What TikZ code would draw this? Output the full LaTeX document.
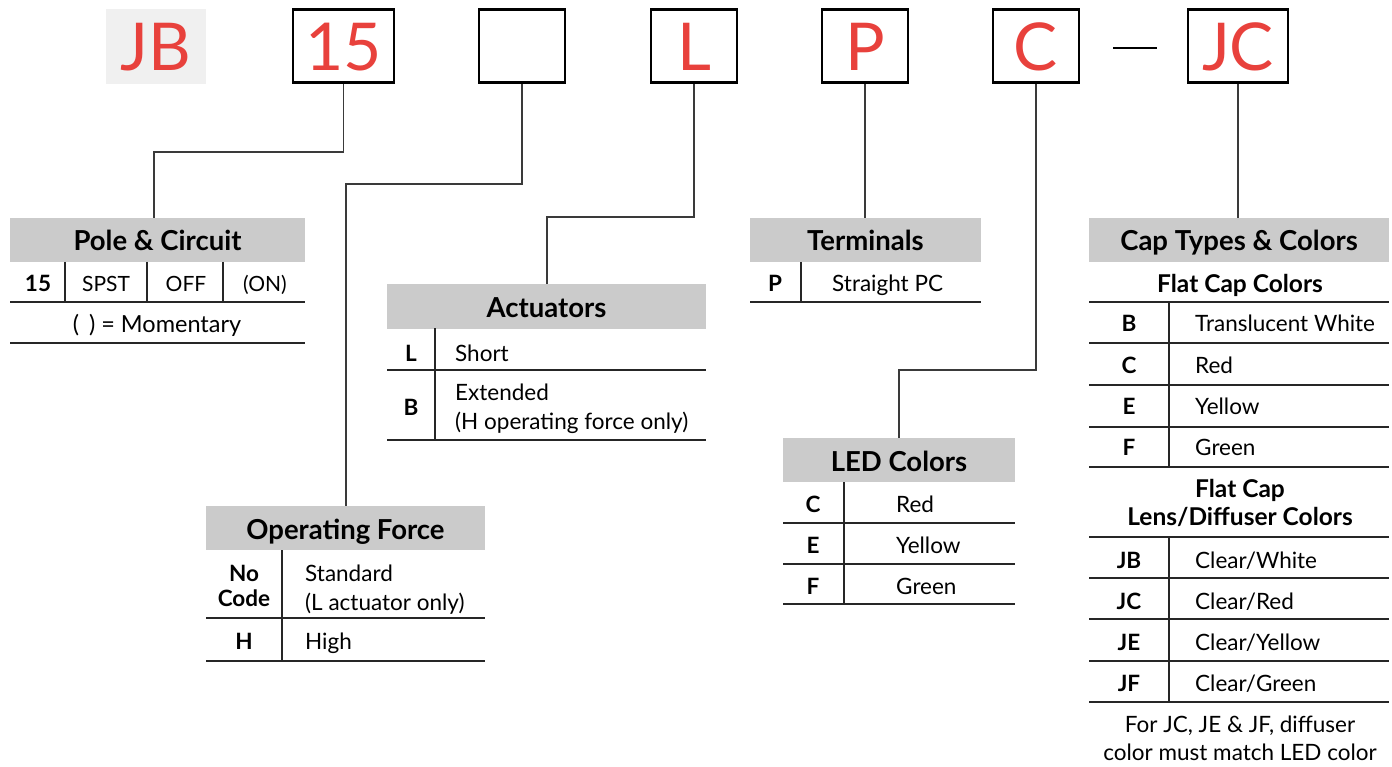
\documentclass[tikz,border=0pt]{standalone}
\usepackage{fontspec}
\setmainfont{Lato}
\usetikzlibrary{positioning}
\definecolor{codered}{HTML}{E8413C}
\definecolor{headgray}{HTML}{CBCBCB}
\definecolor{jbgray}{HTML}{F0F0F0}
\definecolor{leadgray}{HTML}{3A3A3A}
\tikzset{
  code/.style={draw=black, line width=2.6pt, minimum height=73, inner sep=0,
    text=codered, text height=49, text depth=0, font=\fontsize{66}{66}\selectfont},
  head/.style={fill=headgray, minimum height=44, inner sep=0, text height=22,
    text depth=0, font=\bfseries\fontsize{27.5}{27.5}\selectfont},
  key/.style={anchor=base, inner sep=0, font=\bfseries\fontsize{22.5}{22.5}\selectfont},
  sub/.style={anchor=base, inner sep=0, font=\bfseries\fontsize{24.5}{24.5}\selectfont},
  txt/.style={anchor=base west, inner sep=0, font=\fontsize{22.5}{22.5}\selectfont},
  ctxt/.style={anchor=base, inner sep=0, font=\fontsize{22.5}{22.5}\selectfont},
  lead/.style={draw=leadgray, line width=1.2pt},
  rule/.style={draw=black!85, line width=1.3pt}
}
\begin{document}
\begin{tikzpicture}[x=1pt,y=-1pt]
\useasboundingbox (0,0) rectangle (1392,767);
% part number boxes
\node[fill=jbgray, minimum width=100, minimum height=75, inner sep=0, text=codered,
  text height=49, text depth=0, font=\fontsize{66}{66}\selectfont] (jb) at (156,46.5) {JB};
\node[code, minimum width=101] (b15) at (343.5,46) {15};
\node[code, minimum width=86] (bx) at (522,46) {};
\node[code, minimum width=86] (bl) at (694,46) {L};
\node[code, minimum width=86] (bp) at (865,46) {P};
\node[code, minimum width=86] (bc) at (1036,46) {C};
\node[code, minimum width=100] (bjc) at (1238,46) {JC};
\draw[line width=2.6pt] (1113,48) -- (1157,48);

% table headers
\node[head, minimum width=295] (pole) at (157.5,240) {Pole \& Circuit};
\node[head, minimum width=319] (act) at (546.5,306.5) {Actuators};
\node[head, minimum width=279] (force) at (345.5,528) {Operating Force};
\node[head, minimum width=231] (term) at (865.5,240) {Terminals};
\node[head, minimum width=232] (led) at (899,460) {LED Colors};
\node[head, minimum width=300] (cap) at (1239,240) {Cap Types \& Colors};

% leaders
\coordinate (k15) at (154,152);
\coordinate (kx) at (346,184);
\coordinate (kl) at (547,217);
\coordinate (kc) at (899,370);
\draw[lead] (b15.south) |- (k15) -- (k15 |- pole.north);
\draw[lead] (bx.south) |- (kx) -- (kx |- force.north);
\draw[lead] (bl.south) |- (kl) -- (kl |- act.north);
\draw[lead] (bp.south) -- (bp.south |- term.north);
\draw[lead] (bc.south) |- (kc) -- (kc |- led.north);
\draw[lead] (bjc.south) -- (bjc.south |- cap.north);

% pole & circuit
\draw[rule] (65,262) -- (65,302) (147,262) -- (147,302) (223,262) -- (223,302);
\draw[rule] (10,302) -- (305,302) (10,343) -- (305,343);
\node[key] (p15) at (38,292) {15};
\node[ctxt, font=\fontsize{21}{21}\selectfont] (spst) at (106,292) {SPST};
\node[ctxt, font=\fontsize{21}{21}\selectfont] (off) at (186,292) {OFF};
\node[ctxt, font=\fontsize{21}{21}\selectfont] (on) at (265,292) {(ON)};
\node[ctxt, font=\fontsize{23.5}{23.5}\selectfont] (mom) at (157,332) {( \,) = Momentary};

% actuators
\draw[rule] (435,328) -- (435,440);
\draw[rule] (387,370) -- (706,370) (387,440) -- (706,440);
\node[key] (al) at (411,361) {L};
\node[txt] (ashort) at (455,361) {Short};
\node[key] (ab) at (411,415) {B};
\node[txt] (aext) at (455,400) {Extended};
\node[txt] (aonly) at (455,429) {(H operating force only)};

% operating force
\draw[rule] (282,550) -- (282,661);
\draw[rule] (206,618) -- (485,618) (206,661) -- (485,661);
\node[key] (fno) at (244,581) {No};
\node[key] (fcode) at (244,606) {Code};
\node[txt] (fstd) at (305,581) {Standard};
\node[txt] (fonly) at (305,610) {(L actuator only)};
\node[key] (fh) at (244,649) {H};
\node[txt] (fhigh) at (305,649) {High};

% terminals
\draw[rule] (801,262) -- (801,302);
\draw[rule] (750,302) -- (981,302);
\node[key] (tp) at (775,292) {P};
\node[txt] (tpc) at (832,292) {Straight PC};

% LED colors
\draw[rule] (844,482) -- (844,604);
\foreach \y in {523,564,604}
  \draw[rule] (783,\y) -- (1015,\y);
\foreach \k/\n/\b in {C/Red/512, E/Yellow/553, F/Green/594}{
  \node[key] (ledk\k) at (813,\b) {\k};
  \node[txt] (led\k) at (896,\b) {\n};
}

% cap types & colors
\node[sub] (flat) at (1240,293) {Flat Cap Colors};
\draw[rule] (1169,302) -- (1169,467);
\foreach \y in {302,343,385,427,467}
  \draw[rule] (1089,\y) -- (1389,\y);
\foreach \k/\n/\b in {B/Translucent White/331, C/Red/373, E/Yellow/414, F/Green/455}{
  \node[key] (capk\k) at (1129,\b) {\k};
  \node[txt] (cap\k) at (1195,\b) {\n};
}
\node[sub] (lens1) at (1240,497) {Flat Cap};
\node[sub] (lens2) at (1240,525) {Lens/Diffuser Colors};
\draw[rule] (1169,537) -- (1169,702);
\foreach \y in {537,578,619,661,702}
  \draw[rule] (1089,\y) -- (1389,\y);
\foreach \k/\n/\b in {JB/White/568, JC/Red/609, JE/Yellow/650, JF/Green/691}{
  \node[key] (lensk\k) at (1129,\b) {\k};
  \node[txt] (lens\k) at (1195,\b) {Clear\slash\n};
}
\node[ctxt] (note1) at (1240,732) {For JC, JE \& JF, diffuser};
\node[ctxt] (note2) at (1240,760) {color must match LED color};
\end{tikzpicture}
\end{document}
